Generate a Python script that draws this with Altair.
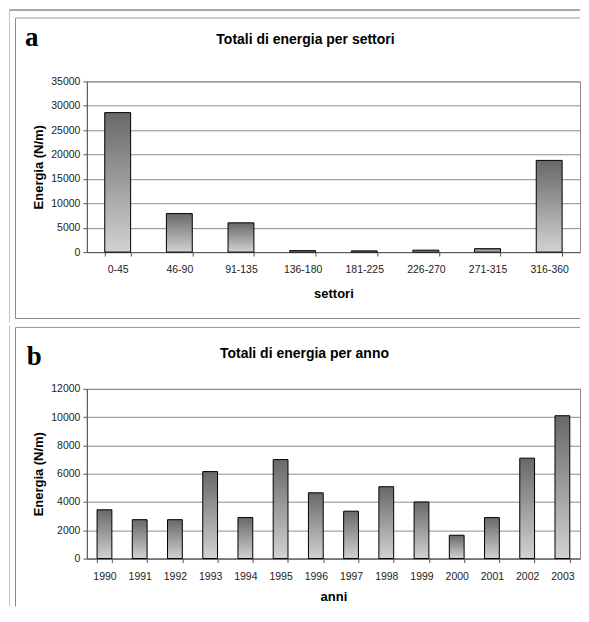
import altair as alt
import pandas as pd

# ---------------- data ----------------
sectors = ["0-45", "46-90", "91-135", "136-180", "181-225", "226-270", "271-315", "316-360"]
sector_energy = [28600, 7900, 6000, 300, 250, 400, 700, 18800]

years = ["1990", "1991", "1992", "1993", "1994", "1995", "1996",
         "1997", "1998", "1999", "2000", "2001", "2002", "2003"]
year_energy = [3450, 2750, 2750, 6150, 2900, 7000, 4650,
               3350, 5080, 4000, 1650, 2900, 7100, 10100]

ticks_a = [0, 5000, 10000, 15000, 20000, 25000, 30000, 35000]
ticks_b = [0, 2000, 4000, 6000, 8000, 10000, 12000]

title_a = "Totali di energia per settori"
title_b = "Totali di energia per anno"
xtitle_a = "settori"
xtitle_b = "anni"
ytitle = "Energia (N/m)"

SANS = "Liberation Sans"
SERIF = "Liberation Serif"

PW = 494      # plot width
XR = 494      # right end of frame lines (relative to plot origin)

grad = alt.LinearGradient(
    gradient="linear",
    stops=[alt.GradientStop(color="#686868", offset=0),
           alt.GradientStop(color="#d2d2d2", offset=1)],
    x1=0, x2=0, y1=0, y2=1,
)

one = pd.DataFrame({"k": [0]})


def hline(x1, x2, y, color, sw=1):
    return alt.Chart(one).mark_rule(color=color, strokeWidth=sw).encode(
        x=alt.value(x1), x2=alt.value(x2), y=alt.value(y))


def vline(x, y1, y2, color, sw=1):
    return alt.Chart(one).mark_rule(color=color, strokeWidth=sw).encode(
        x=alt.value(x), y=alt.value(y1), y2=alt.value(y2))


def label(txt, x, y, font, size, align="left"):
    return alt.Chart(one).mark_text(
        text=txt, font=font, fontSize=size, fontWeight="bold",
        align=align, baseline="alphabetic", color="black",
    ).encode(x=alt.value(x), y=alt.value(y))


def bars(cats, vals, ticks, xtitle, title_pad):
    df = pd.DataFrame({"cat": cats, "val": vals})
    return alt.Chart(df).mark_bar(fill=grad, stroke="black", strokeWidth=1).encode(
        x=alt.X("cat:N", sort=cats,
                scale=alt.Scale(paddingInner=0.58, paddingOuter=0.29),
                axis=alt.Axis(title=xtitle, labelAngle=0, tickBand="extent",
                              tickSize=4, labelPadding=8.5,
                              titlePadding=title_pad, grid=False)),
        y=alt.Y("val:Q",
                scale=alt.Scale(domain=[ticks[0], ticks[-1]], nice=False),
                axis=alt.Axis(title=ytitle, values=ticks, format="d", tickSize=4,
                              labelPadding=3, titlePadding=5, grid=True)),
    )


panel_a = alt.layer(
    vline(-77.5, -71.5, 241.5, "#c4c4c4"),
    hline(-77.5, XR, -71.5, "#505050"),
    vline(-71.5, -63.5, 237.5, "#8a8a8a"),
    hline(-71.5, XR, -63.5, "#9a9a9a"),
    hline(-71.5, XR, 237.5, "#8a8a8a"),
    bars(sectors, sector_energy, ticks_a, xtitle_a, 12),
    label("a", -62, -35, SERIF, 27),
    label(title_a, 219, -37.3, SANS, 14, "center"),
).properties(width=PW, height=171)

panel_b = alt.layer(
    vline(-77.5, -63.5, 218, "#c4c4c4"),
    vline(-71.5, -61.5, 218, "#8a8a8a"),
    hline(-71.5, XR, -61.5, "#9a9a9a"),
    bars(years, year_energy, ticks_b, xtitle_b, 9),
    label("b", -60.3, -24, SERIF, 27),
    label(title_b, 218, -30.7, SANS, 14, "center"),
).properties(width=PW, height=170)

chart = alt.vconcat(panel_a, panel_b, spacing=0).properties(
    padding=0
).configure_view(
    stroke="#8c8c8c"
).configure_axis(
    titleFont=SANS, titleFontSize=13, titleFontWeight="bold", titleColor="black",
    labelFont=SANS, labelFontSize=10.5, labelColor="#222222",
    domainColor="#555555", tickColor="#555555", gridColor="#8c8c8c",
)

chart.save("out.html", embed_options={"renderer": "svg", "actions": False})
